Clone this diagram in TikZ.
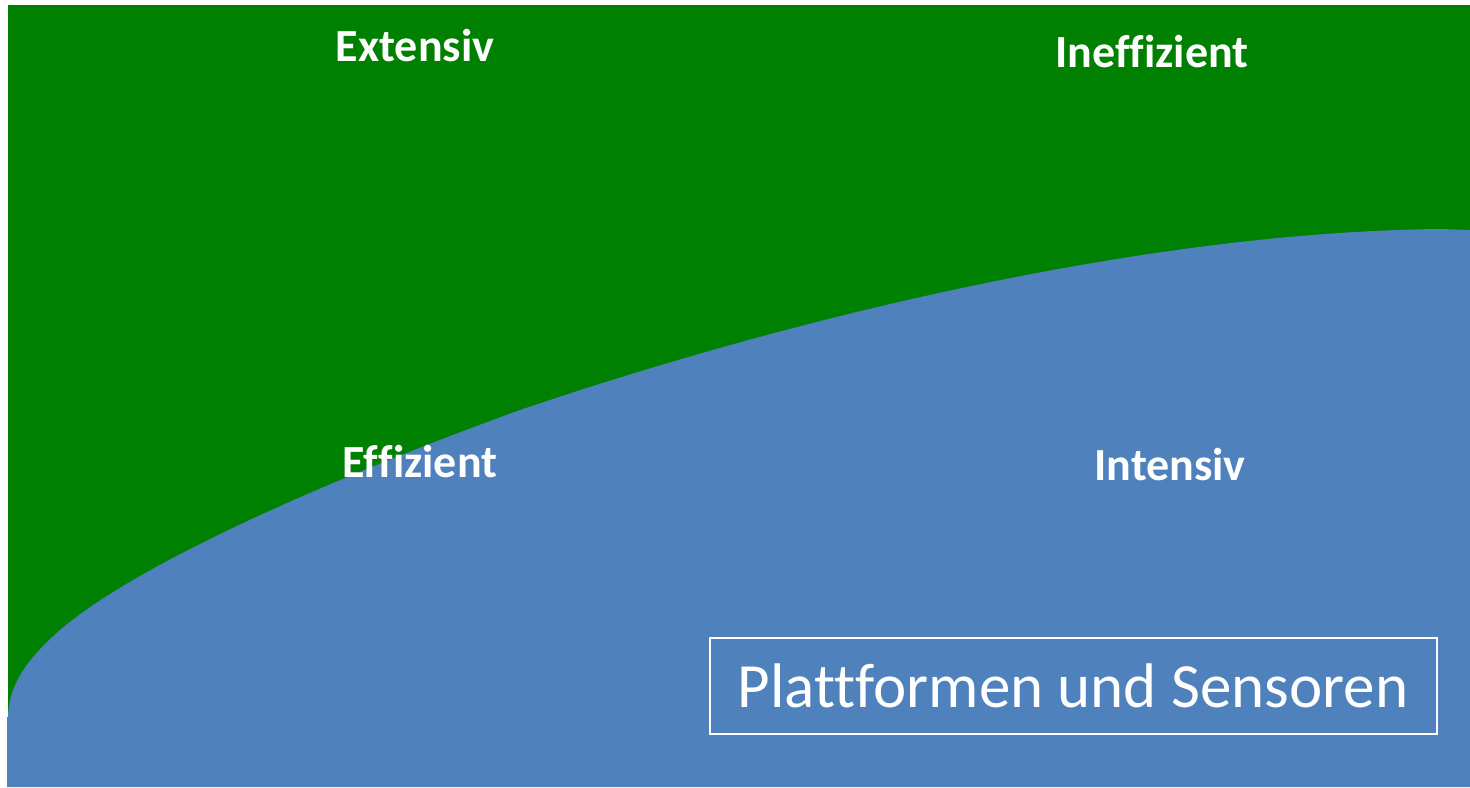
\documentclass[tikz,border=0pt]{standalone}
\usepackage{fontspec}
\setmainfont{Carlito}[Ligatures={NoCommon}]
\definecolor{bggreen}{RGB}{0,128,0}
\definecolor{bgblue}{RGB}{79,129,189}
\begin{document}
\begin{tikzpicture}[x=0.5pt,y=-0.5pt,
  lbl/.style={text=white,font=\fontsize{23}{27}\selectfont\bfseries,inner sep=0pt},
  boxlbl/.style={text=white,draw=white,line width=1pt,font=\fontsize{31.5}{36}\selectfont,
     minimum width=363.5pt,minimum height=48pt,inner sep=0pt}]
\useasboundingbox (0,0) rectangle (1470,787);
\fill[bggreen] (8,5) rectangle (1470,787);
\fill[bgblue] (7,787) -- (7,717) -- (8,717)
  .. controls (9,690) and (20,665) .. (60,630)
  .. controls (130,570) and (300,490) .. (520,410)
  .. controls (800,315) and (1150,232) .. (1440,229)
  -- (1470,230) -- (1470,787) -- cycle;
\node[lbl] (ext) at (415,46) {Extensiv};
\node[lbl] (ineff) at (1152,52) {Ineffizient};
\node[lbl] (eff) at (420,462) {Effizient};
\node[lbl] (int) at (1170,465) {Intensiv};
\node[boxlbl] (ps) at (1073,686) {Plattformen und Sensoren};
\end{tikzpicture}
\end{document}
